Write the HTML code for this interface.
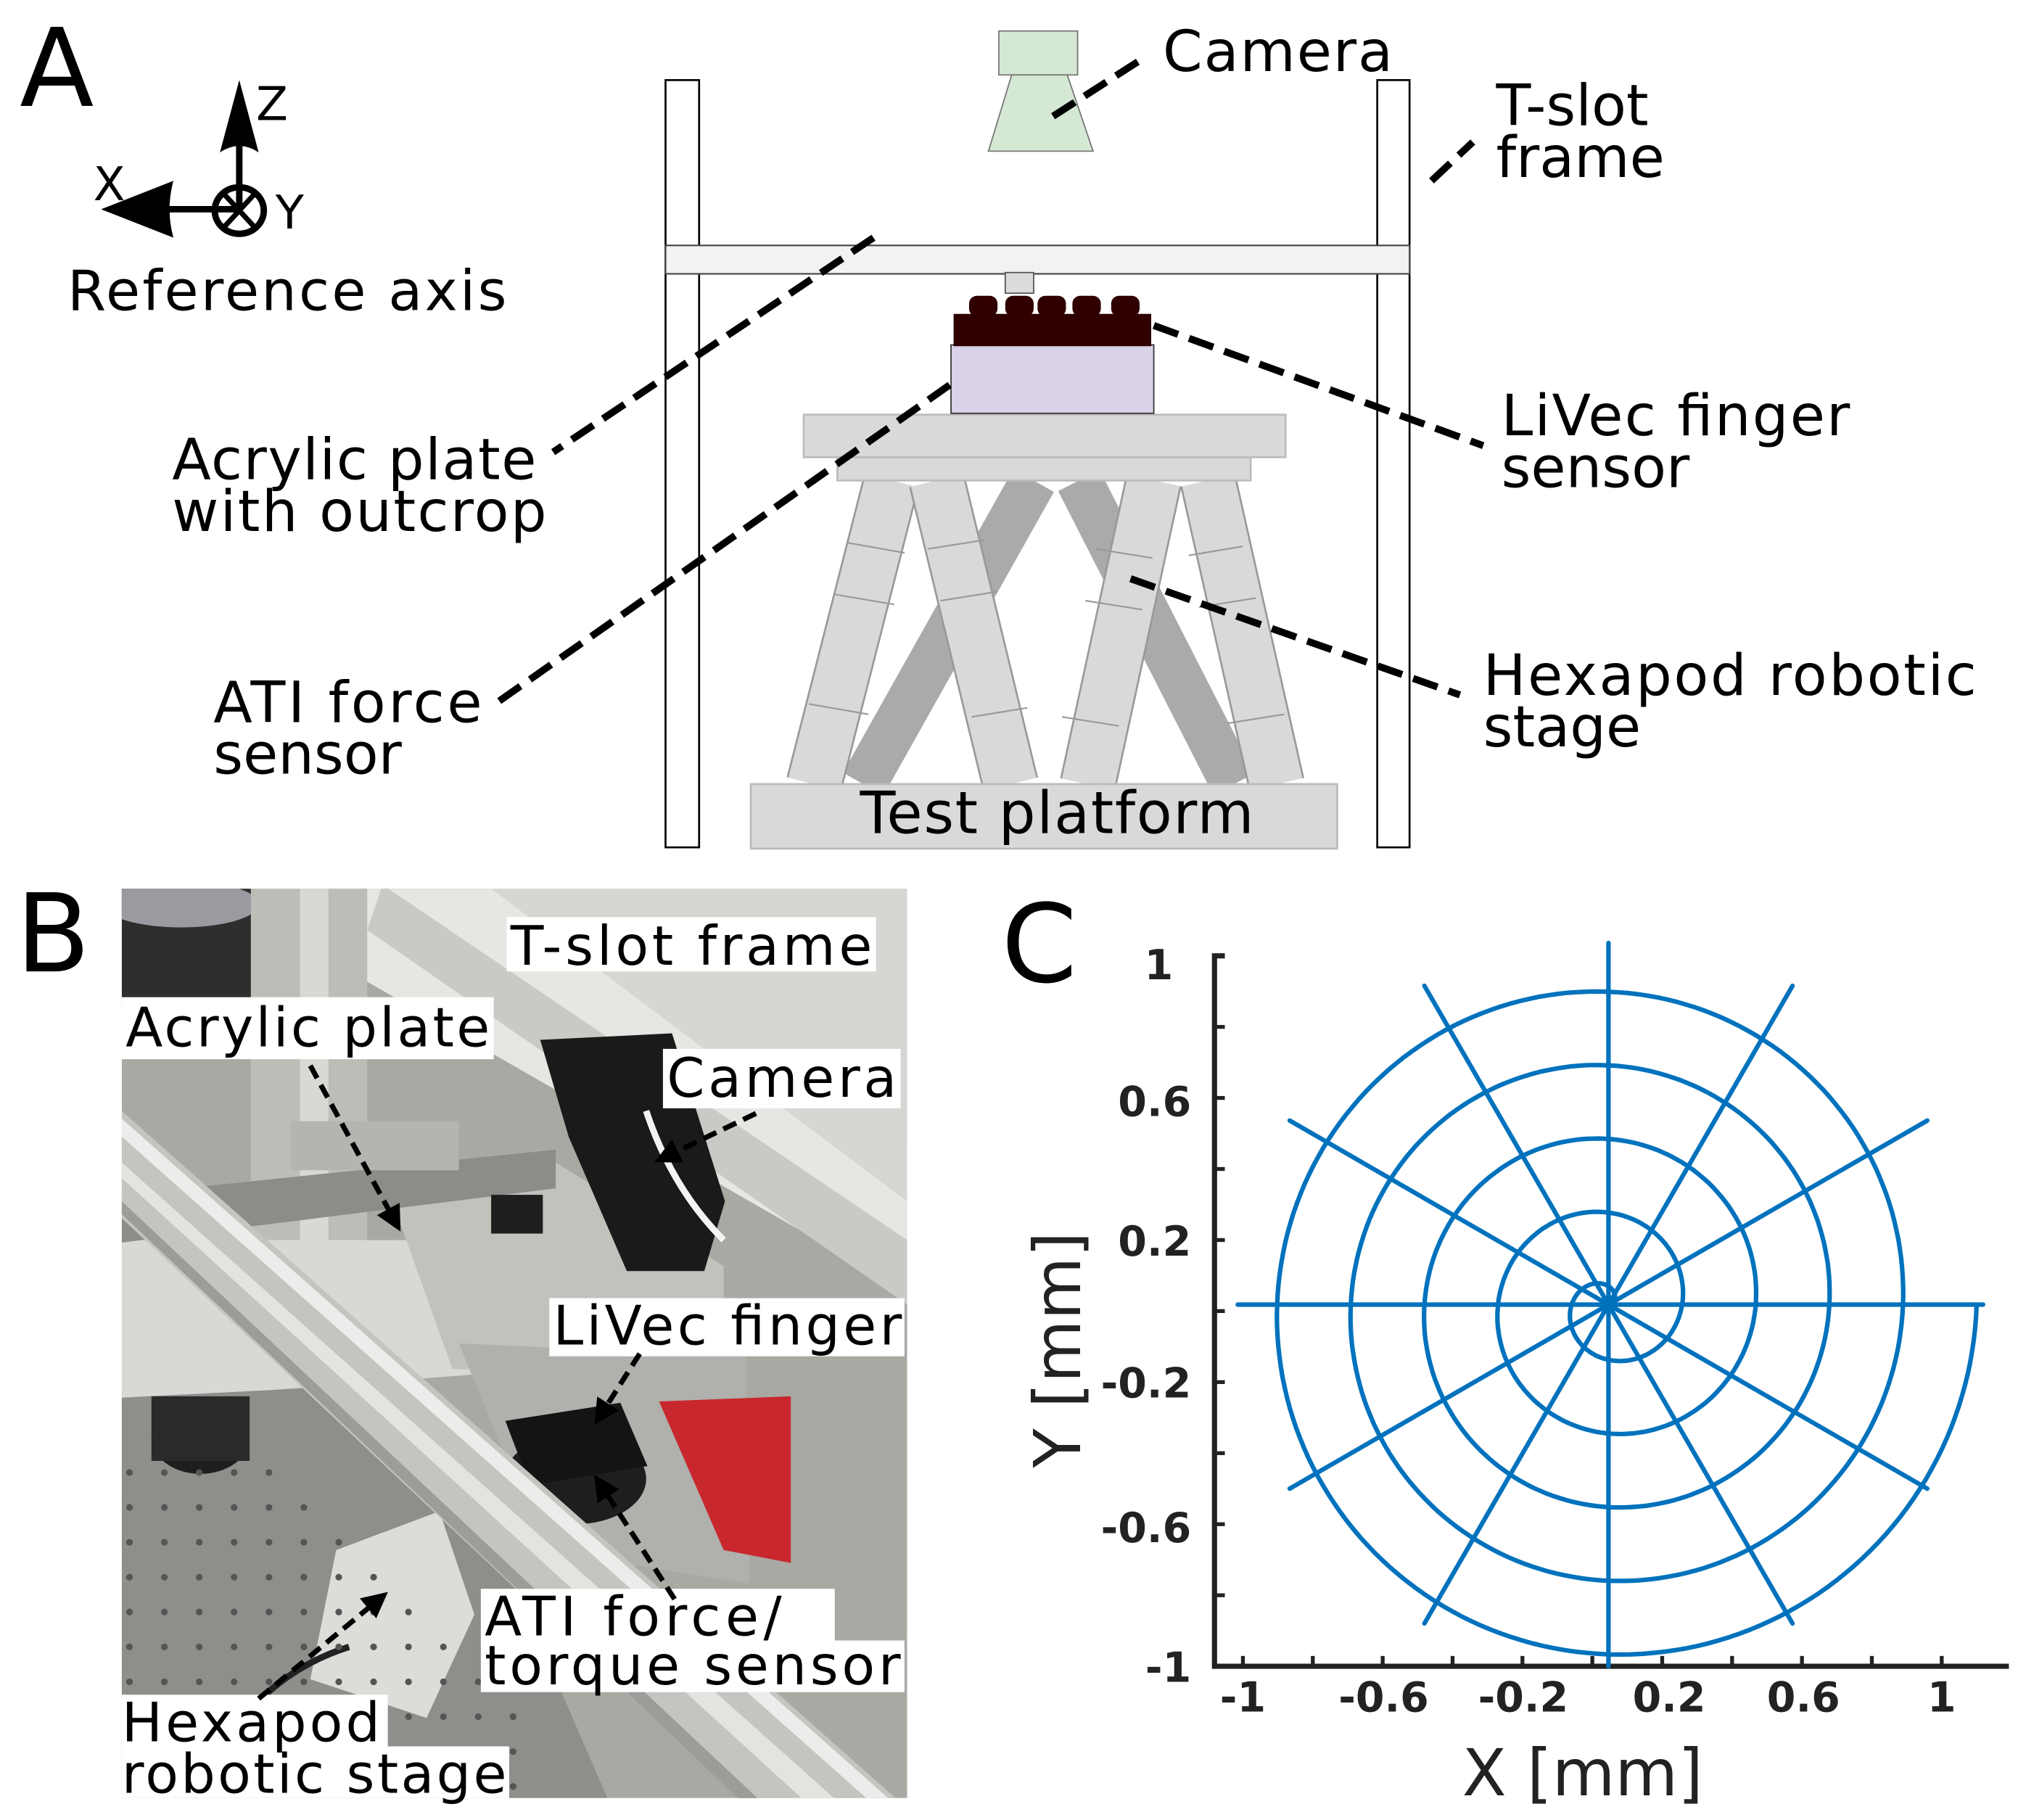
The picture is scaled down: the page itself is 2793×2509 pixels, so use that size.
<!DOCTYPE html>
<html><head><meta charset="utf-8"><style>
html,body{margin:0;padding:0;background:#fff}
svg{display:block}
text{font-family:"DejaVu Sans","Liberation Sans",sans-serif}
</style></head><body>
<svg id="s" width="2793" height="2509" viewBox="0 0 1568 1409" xmlns="http://www.w3.org/2000/svg">
<defs>
<marker id="ah" viewBox="0 0 10 10" refX="8" refY="5" markerWidth="5" markerHeight="5" orient="auto"><path d="M0,0 L10,5 L0,10 z" fill="#000"/></marker>
</defs>
<rect width="1568" height="1409" fill="#fff"/>
<!-- Panel A -->
<text x="15" y="82" font-size="84">A</text>
<line x1="185" y1="162" x2="185" y2="100" stroke="#000" stroke-width="5"/>
<path d="M185,62 L200,118 Q185,108 170,118 Z" fill="#000"/>
<line x1="185" y1="162" x2="115" y2="162" stroke="#000" stroke-width="5"/>
<path d="M78,162 L134,140 Q128,162 134,184 Z" fill="#000"/>
<ellipse cx="185" cy="163" rx="19" ry="18" fill="none" stroke="#000" stroke-width="5"/>
<line x1="173" y1="150" x2="197" y2="176" stroke="#000" stroke-width="4"/>
<line x1="197" y1="150" x2="173" y2="176" stroke="#000" stroke-width="4"/>
<text x="198" y="93" font-size="36">Z</text>
<text x="72" y="155" font-size="36">X</text>
<text x="213" y="177" font-size="36">Y</text>
<text x="52" y="240" font-size="43" textLength="340">Reference axis</text>

<rect x="515" y="62" width="26" height="594" fill="#fff" stroke="#000" stroke-width="1.5"/>
<rect x="1066" y="62" width="25" height="594" fill="#fff" stroke="#000" stroke-width="1.5"/>
<rect x="515" y="190" width="576" height="22" fill="#f2f2f2" stroke="#444" stroke-width="1.2"/>
<rect x="778" y="211" width="22" height="16" fill="#dcdcdc" stroke="#555" stroke-width="1"/>
<rect x="773" y="24" width="61" height="34" fill="#d5e8d4" stroke="#777" stroke-width="1"/>
<path d="M783,58 L826,58 L846,117 L765,117 Z" fill="#d5e8d4" stroke="#777" stroke-width="1"/>

<!-- hexapod legs -->
<g stroke-linecap="butt">
<line x1="800" y1="372" x2="668" y2="607" stroke="#aaa" stroke-width="36"/>
<line x1="835" y1="372" x2="955" y2="607" stroke="#aaa" stroke-width="36"/>
<line x1="690" y1="372" x2="630" y2="607" stroke="#999" stroke-width="44"/>
<line x1="690" y1="372" x2="630" y2="607" stroke="#d9d9d9" stroke-width="41"/>
<line x1="725" y1="372" x2="782" y2="607" stroke="#999" stroke-width="44"/>
<line x1="725" y1="372" x2="782" y2="607" stroke="#d9d9d9" stroke-width="41"/>
<line x1="893" y1="372" x2="842" y2="607" stroke="#999" stroke-width="44"/>
<line x1="893" y1="372" x2="842" y2="607" stroke="#d9d9d9" stroke-width="41"/>
<line x1="935" y1="372" x2="988" y2="607" stroke="#999" stroke-width="44"/>
<line x1="935" y1="372" x2="988" y2="607" stroke="#d9d9d9" stroke-width="41"/>
</g>
<g stroke="#999" stroke-width="1.2">
<line x1="655" y1="420" x2="700" y2="428"/><line x1="645" y1="460" x2="692" y2="468"/><line x1="626" y1="545" x2="672" y2="553"/>
<line x1="718" y1="425" x2="762" y2="418"/><line x1="728" y1="465" x2="772" y2="458"/><line x1="752" y1="555" x2="795" y2="548"/>
<line x1="848" y1="425" x2="892" y2="432"/><line x1="840" y1="465" x2="884" y2="472"/><line x1="822" y1="555" x2="866" y2="562"/>
<line x1="920" y1="430" x2="962" y2="423"/><line x1="928" y1="470" x2="972" y2="463"/><line x1="950" y1="560" x2="994" y2="553"/>
</g>
<rect x="648" y="352" width="320" height="20" fill="#d9d9d9" stroke="#bbb" stroke-width="1.5"/>
<rect x="622" y="321" width="373" height="33" fill="#d9d9d9" stroke="#bbb" stroke-width="1.5"/>
<rect x="581" y="607" width="454" height="50" fill="#d9d9d9" stroke="#bbb" stroke-width="1.5"/>
<text x="818" y="645" font-size="45" text-anchor="middle" textLength="305">Test platform</text>

<rect x="736" y="267" width="157" height="53" fill="#d9d2e9" stroke="#333" stroke-width="1"/>
<rect x="738" y="243" width="153" height="25" fill="#300000"/>
<g fill="#300000">
<rect x="750" y="229" width="22" height="16" rx="6"/>
<rect x="778" y="229" width="22" height="16" rx="6"/>
<rect x="803" y="229" width="22" height="16" rx="6"/>
<rect x="830" y="229" width="22" height="16" rx="6"/>
<rect x="860" y="229" width="22" height="16" rx="6"/>
</g>

<g stroke="#000" stroke-width="5.5" stroke-dasharray="20 9" fill="none">
<line x1="815" y1="90" x2="885" y2="45"/>
<line x1="1108" y1="140" x2="1140" y2="110"/>
<line x1="893" y1="252" x2="1148" y2="345"/>
<line x1="676" y1="184" x2="428" y2="350"/>
<line x1="735" y1="298" x2="383" y2="545"/>
<line x1="875" y1="448" x2="1130" y2="538"/>
</g>
<g font-size="44">
<text x="900" y="55" textLength="178">Camera</text>
<text x="1158" y="97">T-slot</text>
<text x="1158" y="137">frame</text>
<text x="1162" y="337" textLength="270">LiVec finger</text>
<text x="1162" y="377">sensor</text>
<text x="133" y="371" textLength="282">Acrylic plate</text>
<text x="133" y="411" textLength="290">with outcrop</text>
<text x="165" y="559" textLength="208">ATI force</text>
<text x="165" y="599">sensor</text>
<text x="1148" y="538" textLength="382">Hexapod robotic</text>
<text x="1148" y="578">stage</text>
</g>

<!-- Panel B -->
<text x="12" y="752" font-size="84">B</text>
<clipPath id="pc"><rect x="94" y="688" width="608" height="704"/></clipPath>
<g clip-path="url(#pc)">
<rect x="94" y="688" width="608" height="704" fill="#a9a8a3"/>
<!-- top area -->
<rect x="94" y="688" width="100" height="90" fill="#2e2e2e"/>
<ellipse cx="140" cy="700" rx="60" ry="18" fill="#9a9aa0"/>
<rect x="194" y="688" width="90" height="300" fill="#bdbdb8"/>
<rect x="232" y="688" width="22" height="300" fill="#d8d8d4"/>
<path d="M284,688 L702,688 L702,1000 L284,760 Z" fill="#e6e6e2"/>
<path d="M296,685 L702,960 L702,1010 L284,720 Z" fill="#c9c9c5"/>
<path d="M380,688 L702,688 L702,930 Z" fill="#d6d6d2"/>
<!-- mid floor area -->
<path d="M94,960 L330,960 L420,1060 L94,1085 Z" fill="#d8d8d4"/>
<path d="M300,920 L430,900 L560,980 L560,1060 L350,1060 Z" fill="#c2c2bd"/>
<!-- bracket bar -->
<path d="M94,925 L430,890 L430,920 L94,962 Z" fill="#8c8c88"/>
<rect x="225" y="868" width="130" height="38" fill="#b4b4b0"/>
<rect x="380" y="925" width="40" height="30" fill="#1e1e1e"/>
<!-- optical table -->
<path d="M94,1082 L330,1070 L470,1392 L94,1392 Z" fill="#8e8e8b"/>
<!-- hexapod plate -->
<path d="M355,1040 L577,1050 L580,1226 L420,1200 Z" fill="#b0b0ad"/>
<path d="M510,1085 L612,1081 L612,1210 L560,1200 Z" fill="#c8282d"/>
<ellipse cx="445" cy="1145" rx="55" ry="35" fill="#1e1e1e"/>
<path d="M391,1100 L480,1086 L501,1135 L410,1150 Z" fill="#141414"/>
<ellipse cx="155" cy="1113" rx="38" ry="28" fill="#1e1e1e"/>
<rect x="117" y="1081" width="76" height="50" fill="#2a2a2a"/>
<path d="M260,1200 L340,1170 L367,1250 L330,1330 L240,1300 Z" fill="#dcdcd9"/>
<path d="M150,1392 Q190,1300 270,1275" stroke="#222" stroke-width="5" fill="none"/>
<g id="dots" fill="#555"></g>
<!-- camera -->
<path d="M418,805 L520,800 L561,930 L545,984 L485,984 L440,880 Z" fill="#1a1a1a"/>
<path d="M500,860 Q520,920 560,960" stroke="#f4f4f4" stroke-width="5" fill="none"/>
<!-- main rail -->
<path d="M94,860 L702,1400 L584,1404 L94,943 Z" fill="#c4c4c1"/>
<path d="M94,866 L702,1405 L702,1420 L94,880 Z" fill="#ececea"/>
<path d="M94,900 L660,1405 L640,1410 L94,912 Z" fill="#e3e3e0"/>
<path d="M94,930 L600,1405 L590,1410 L94,940 Z" fill="#9c9c99"/>
</g>
<g fill="#fff">
<rect x="392" y="710" width="286" height="42"/>
<rect x="94" y="772" width="288" height="48"/>
<rect x="513" y="812" width="184" height="46"/>
<rect x="425" y="1005" width="275" height="45"/>
<rect x="372" y="1230" width="274" height="42"/>
<rect x="372" y="1270" width="328" height="40"/>
<rect x="94" y="1312" width="206" height="42"/>
<rect x="94" y="1352" width="300" height="40"/>
</g>
<g stroke="#000" stroke-width="4" stroke-dasharray="11 6" fill="none" marker-end="url(#ah)">
<line x1="240" y1="825" x2="308" y2="950"/>
<line x1="585" y1="862" x2="510" y2="898"/>
<line x1="495" y1="1048" x2="462" y2="1100"/>
<line x1="522" y1="1238" x2="462" y2="1145"/>
<line x1="200" y1="1315" x2="297" y2="1235"/>
</g>
<g font-size="42">
<text x="395" y="747" textLength="280">T-slot frame</text>
<text x="97" y="810" textLength="282">Acrylic plate</text>
<text x="516" y="849" textLength="178">Camera</text>
<text x="428" y="1041" textLength="270">LiVec finger</text>
<text x="375" y="1266" textLength="230">ATI force/</text>
<text x="375" y="1304" textLength="322">torque sensor</text>
<text x="94" y="1348" textLength="200">Hexapod</text>
<text x="94" y="1388" textLength="298">robotic stage</text>
</g>

<!-- Panel C -->
<text x="775" y="760" font-size="84">C</text>
<g stroke="#222" stroke-width="4" fill="none">
<polyline points="948,740 940,740 940,1290 1555,1290"/>
</g>
<g id="ticks" stroke="#222" stroke-width="3"></g>
<g fill="#222" font-size="32" font-weight="bold" text-anchor="end">
<text x="908" y="758">1</text>
<text x="922" y="864">0.6</text>
<text x="922" y="972">0.2</text>
<text x="922" y="1082">-0.2</text>
<text x="922" y="1194">-0.6</text>
<text x="922" y="1302">-1</text>
</g>
<g fill="#222" font-size="32" font-weight="bold" text-anchor="middle">
<text x="962" y="1325">-1</text>
<text x="1071" y="1325">-0.6</text>
<text x="1179" y="1325">-0.2</text>
<text x="1292" y="1325">0.2</text>
<text x="1396" y="1325">0.6</text>
<text x="1503" y="1325">1</text>
</g>
<text x="1225" y="1390" font-size="50" fill="#222" text-anchor="middle">X [mm]</text>
<text transform="translate(836,1045) rotate(-90)" font-size="50" fill="#222" text-anchor="middle">Y [mm]</text>
<g id="polar" stroke="#0072bd" stroke-width="3.5" fill="none" stroke-linecap="round"></g>
</svg>
<script>
var NS="http://www.w3.org/2000/svg";
function el(p,t,a){var e=document.createElementNS(NS,t);for(var k in a)e.setAttribute(k,a[k]);document.getElementById(p).appendChild(e);return e;}
var cx=1245,cy=1010;
var d="";for(var i=0;i<=1000;i++){var th=i/1000*10*Math.PI;var r=28.5*th/Math.PI;d+=(i?"L":"M")+(cx+r*Math.cos(th)).toFixed(1)+","+(cy-r*Math.sin(th)).toFixed(1);}
el("polar","path",{d:d});
for(var k=0;k<12;k++){var a=k*Math.PI/6;var L=(k%3==0)?(k==0?290:(k==6?287:280)):285;el("polar","line",{x1:cx,y1:cy,x2:cx+L*Math.cos(a),y2:cy-L*Math.sin(a)});}
for(var j=0;j<11;j++){var y=740+j*55;el("ticks","line",{x1:940,y1:y,x2:948,y2:y});var x=962+j*54.1;el("ticks","line",{x1:x,y1:1290,x2:x,y2:1282});}
for(var yy=1140;yy<1400;yy+=27){for(var xx=100;xx<420;xx+=27){var ox=xx;if(ox<100+(yy-1080)*0.9+80)el("dots","circle",{cx:ox,cy:yy,r:2.6});}}
</script>
</body></html>
